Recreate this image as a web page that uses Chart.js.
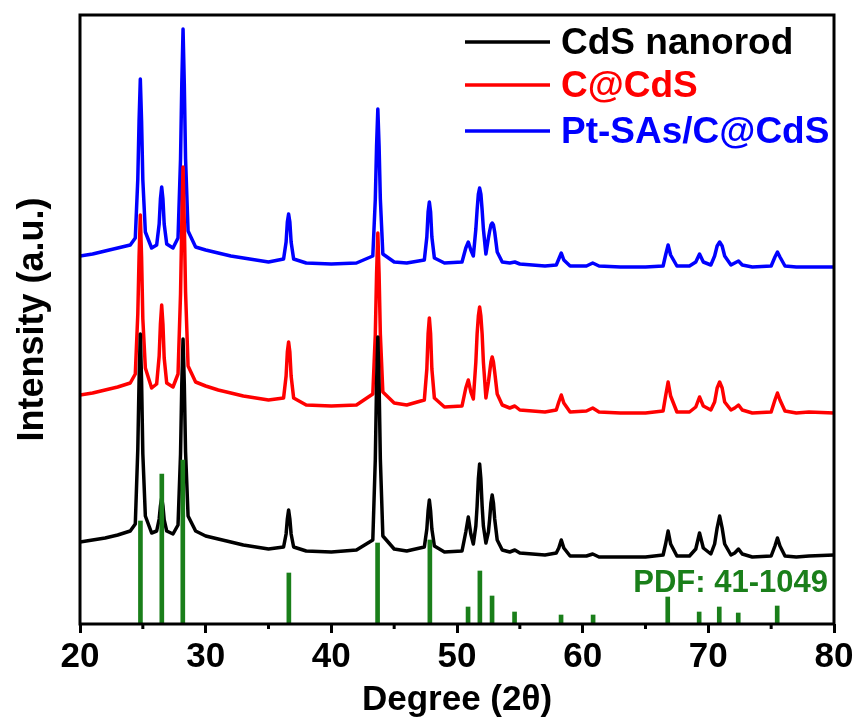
<!DOCTYPE html>
<html>
<head>
<meta charset="utf-8">
<title>XRD</title>
<script src="https://cdn.jsdelivr.net/npm/chart.js@4.4.1/dist/chart.umd.min.js"></script>
<style>
  html, body { margin: 0; padding: 0; background: #fff; }
  canvas { display: block; }
</style>
</head>
<body>
<canvas id="xrdChart" width="857" height="726"></canvas>
<script>
// 2θ grid shared by the three measured patterns
const twoTheta = [
  20, 21, 22, 23, 24,
  24.4, 24.6, 24.7, 24.8, 24.9, 25.0, 25.2,
  25.7,
  26.1, 26.3, 26.4, 26.5, 26.6, 26.7, 26.9,
  27.4,
  27.8, 28.0, 28.1, 28.2, 28.3, 28.4, 28.6,
  29.2, 30, 31, 32, 33, 34, 35,
  36.2, 36.4, 36.5, 36.6, 36.7, 36.8, 37.0,
  38, 40, 42,
  43.3, 43.5, 43.6, 43.7, 43.8, 43.9, 44.1,
  45, 46,
  47.4, 47.6, 47.7, 47.8, 47.9, 48.0, 48.2,
  49, 50.4,
  50.7, 50.9, 51.1,
  51.3, 51.5, 51.6, 51.7, 51.8, 51.9, 52.0, 52.1,
  52.3,
  52.5, 52.6, 52.7, 52.8, 52.9, 53.0, 53.2,
  53.6, 54.2, 54.6, 55.0, 57, 57.9,
  58.1, 58.3, 58.5,
  59, 60.3, 60.8, 61.3, 63, 65, 66.4,
  66.6, 66.8, 67.0,
  67.5, 68.5, 69.0, 69.3, 69.6,
  70.2, 70.5, 70.7, 70.9, 71.1, 71.3,
  71.8, 72.1, 72.4, 72.7,
  73.5, 75.0, 75.3, 75.5, 75.7, 76.1,
  77, 78, 80
];

// intensidades (ya desplazadas verticalmente, u.a.)
const cdsNanorod = [
  82, 84, 86, 89, 93,
  100, 175, 243, 290, 243, 170, 108,
  91,
  93, 105, 118, 126, 118, 104, 93,
  90,
  99, 170, 240, 285, 240, 172, 108,
  93, 88, 85, 82, 79, 77, 75,
  77, 90, 105, 114, 105, 90, 77,
  73, 72, 74,
  84, 165, 240, 287, 240, 165, 88,
  75, 73,
  77, 95, 113, 124, 113, 95, 78,
  72, 73,
  92, 107, 90,
  80, 98, 118, 145, 160, 145, 118, 98,
  81,
  92, 105, 121, 129, 121, 105, 84,
  74, 72, 74, 71, 69, 71,
  76, 84, 76,
  68, 68, 70, 67, 67, 67, 69,
  80, 93, 80,
  68, 68, 75, 91, 76,
  70, 80, 96, 108, 96, 80,
  69, 71, 75, 70,
  67, 68, 78, 86, 78, 68,
  67, 68, 69
];

const cAtCdS = [
  229, 231, 234, 237, 241,
  250, 310, 367, 409, 367, 305, 256,
  236,
  240, 268, 300, 319, 300, 266, 241,
  237,
  250, 330, 400, 457, 400, 332, 258,
  242, 238, 234, 231, 228, 226, 224,
  226, 248, 272, 282, 272, 248, 226,
  219, 218, 219,
  230, 290, 350, 391, 350, 290, 232,
  221, 219,
  224, 255, 290, 306, 290, 255, 226,
  217, 218,
  236, 244, 232,
  225, 262, 290, 308, 317, 308, 290, 262,
  226,
  242, 252, 262, 267, 262, 252, 230,
  219, 216, 218, 214, 212, 214,
  222, 229, 221,
  212, 213, 216, 212, 211, 211, 213,
  228, 242, 228,
  212, 212, 217, 227, 218,
  214, 222, 236, 242, 236, 222,
  214, 216, 219, 214,
  211, 212, 224, 231, 224, 213,
  211, 212, 211
];

const ptSAs = [
  368, 370, 373, 376, 379,
  386, 445, 503, 545, 503, 444, 392,
  376,
  379, 400, 425, 437, 425, 400, 380,
  376,
  386, 465, 540, 595, 540, 465, 393,
  377, 374, 371, 368, 366, 364, 362,
  365, 382, 402, 410, 402, 382, 365,
  361, 360, 361,
  368, 425, 478, 515, 478, 425, 370,
  362, 361,
  364, 387, 412, 422, 412, 387, 366,
  361, 362,
  376, 382, 374,
  368, 395, 414, 430, 436, 430, 414, 395,
  370,
  386, 393, 399, 401, 399, 392, 372,
  362, 361, 362, 360, 358, 359,
  365, 371, 364,
  358, 358, 361, 358, 357, 357, 358,
  369, 379, 369,
  358, 358, 362, 370, 362,
  359, 368, 378, 382, 378, 368,
  359, 361, 363, 359,
  357, 358, 367, 372, 367, 358,
  357, 357, 357
];

// tarjeta de referencia PDF 41-1049
const pdfAngles = [24.81, 26.51, 28.18, 36.62, 43.68, 47.84, 50.88, 51.82, 52.79, 54.58, 58.28, 60.83, 66.77, 69.27, 70.87, 72.38, 75.48];
const pdfHeights = [103, 150, 164, 51, 81, 84, 17, 53, 28, 12, 9, 9, 27, 12, 17, 11, 18];

const seriesNames = ['CdS nanorod', 'C@CdS', 'Pt-SAs/C@CdS'];
const seriesColors = ['#000000', '#ff0000', '#0000ff'];
const pdfColor = '#1a7f1a';
const FONT = '"Liberation Sans", Arial, Helvetica, sans-serif';

function toPoints(ys) {
    return twoTheta.map((x, i) => ({ x: x, y: ys[i] }));
}

// marco, ticks menores, leyenda y etiqueta PDF
const decorPlugin = {
    id: 'decor',
    afterDraw(chart) {
        const { ctx, chartArea: a, scales } = chart;
        ctx.save();
        ctx.strokeStyle = '#000';
        ctx.lineWidth = 3;
        ctx.strokeRect(a.left, a.top, a.right - a.left, a.bottom - a.top);

        ctx.beginPath();
        for (let v = 25; v < 80; v += 10) {
            const px = scales.x.getPixelForValue(v);
            ctx.moveTo(px, a.bottom);
            ctx.lineTo(px, a.bottom + 5);
        }
        ctx.stroke();

        // leyenda
        ctx.font = 'bold 37px ' + FONT;
        ctx.textAlign = 'left';
        ctx.textBaseline = 'alphabetic';
        const rows = [42, 85, 131];
        seriesNames.forEach((name, i) => {
            ctx.strokeStyle = seriesColors[i];
            ctx.lineWidth = 3.5;
            ctx.beginPath();
            ctx.moveTo(465, rows[i]);
            ctx.lineTo(550, rows[i]);
            ctx.stroke();
            ctx.fillStyle = seriesColors[i];
            ctx.fillText(name, 561, rows[i] + 12);
        });

        ctx.font = 'bold 31px ' + FONT;
        ctx.fillStyle = pdfColor;
        ctx.textAlign = 'right';
        ctx.fillText('PDF: 41-1049', 828, 592);
        ctx.restore();
    }
};

const lineStyle = { type: 'line', borderWidth: 3.5, pointRadius: 0, tension: 0, borderJoinStyle: 'round' };

const ctx = document.getElementById('xrdChart').getContext('2d');
const xrdChart = new Chart(ctx, {
    data: {
        datasets: [
            {
                type: 'bar',
                label: 'PDF: 41-1049',
                data: pdfAngles.map((x, i) => ({ x: x, y: pdfHeights[i] })),
                backgroundColor: pdfColor,
                barThickness: 4
            },
            Object.assign({ label: seriesNames[0], data: toPoints(cdsNanorod), borderColor: seriesColors[0] }, lineStyle),
            Object.assign({ label: seriesNames[1], data: toPoints(cAtCdS), borderColor: seriesColors[1] }, lineStyle),
            Object.assign({ label: seriesNames[2], data: toPoints(ptSAs), borderColor: seriesColors[2] }, lineStyle)
        ]
    },
    options: {
        responsive: false,
        animation: false,
        layout: { padding: { left: 0, top: 15, right: 23, bottom: 0 } },
        plugins: {
            legend: { display: false },
            tooltip: { enabled: false }
        },
        scales: {
            x: {
                type: 'linear',
                min: 20,
                max: 80,
                offset: false,
                afterFit(scale) { scale.height = 102; },
                ticks: {
                    stepSize: 5,
                    autoSkip: false,
                    maxRotation: 0,
                    padding: 3,
                    color: '#000',
                    font: { family: FONT, size: 35, weight: 'bold' },
                    callback: v => (v % 10 === 0 ? v : '')
                },
                grid: {
                    display: true,
                    offset: false,
                    drawOnChartArea: false,
                    drawTicks: true,
                    tickLength: 9,
                    tickWidth: 3,
                    tickColor: c => (c.tick && c.tick.value % 10 === 0 ? '#000' : 'rgba(0,0,0,0)')
                },
                border: { display: false },
                title: {
                    display: true,
                    text: 'Degree (2θ)',
                    color: '#000',
                    font: { family: FONT, size: 35, weight: 'bold' },
                    padding: { top: 0, bottom: 5 }
                }
            },
            y: {
                min: 0,
                max: 609,
                afterFit(scale) { scale.width = 80; },
                ticks: { display: false },
                grid: { display: false },
                border: { display: false },
                title: {
                    display: true,
                    text: 'Intensity (a.u.)',
                    color: '#000',
                    font: { family: FONT, size: 36, weight: 'bold' },
                    padding: { top: 11, bottom: 0 }
                }
            }
        }
    },
    plugins: [decorPlugin]
});
</script>
</body>
</html>
